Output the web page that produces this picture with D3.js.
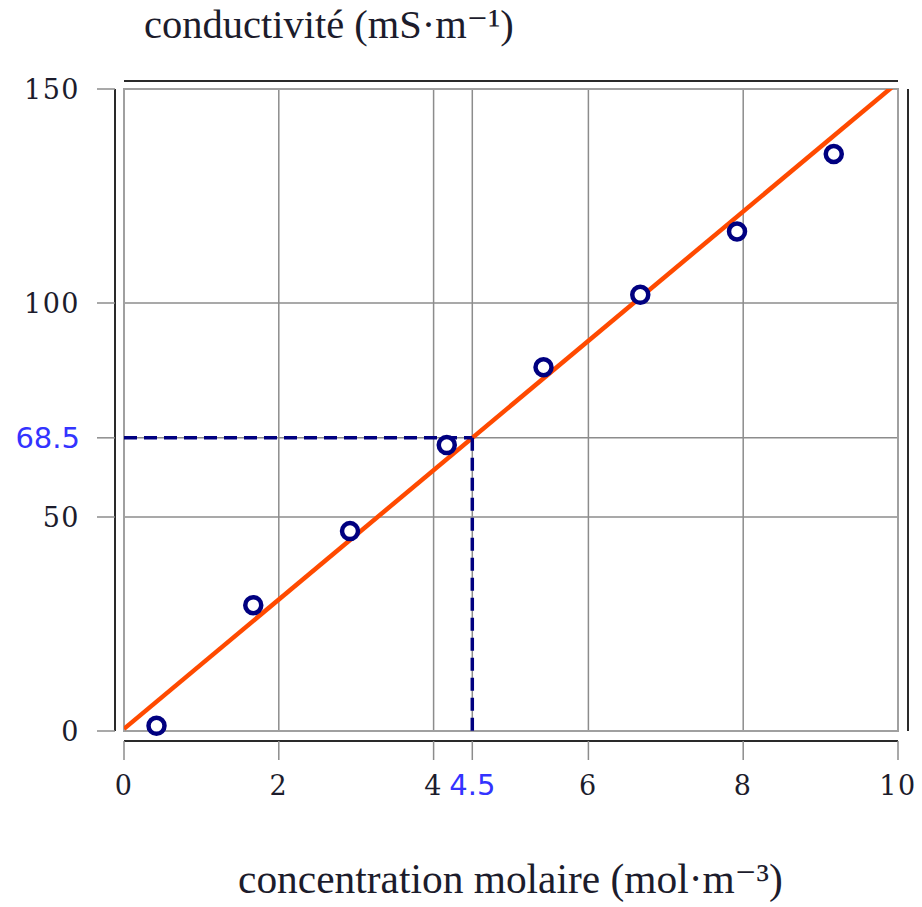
<!DOCTYPE html>
<html>
<head>
<meta charset="utf-8">
<script src="https://cdn.jsdelivr.net/npm/d3@7"></script>
<style>
  html, body { margin: 0; padding: 0; background: #fff; }
  svg { display: block; }
</style>
</head>
<body>
<svg id="chart" width="922" height="907"></svg>
<script>
// Measured conductivity versus molar concentration
const concentration = [0.42, 1.67, 2.92, 4.17, 5.42, 6.67, 7.92, 9.17];
const conductivity  = [1.2, 29.4, 46.7, 66.8, 85.0, 101.9, 116.7, 134.8];

// Regression line: sigma = slope * c + intercept
const fitSlope = 15.11;
const fitIntercept = 0.5;

// Read-off point on the regression line
const readX = 4.5;
const readY = 68.5;

const xTicks = [0, 2, 4, 6, 8, 10];
const yTicks = [0, 50, 100, 150];

const xTitle = "concentration molaire (mol·m⁻³)";
const yTitle = "conductivité (mS·m⁻¹)";

const svg = d3.select("#chart");
const plotLeft = 124, plotRight = 898, plotTop = 89, plotBottom = 731;

const x = d3.scaleLinear().domain([0, 10]).range([plotLeft, plotRight]);
const y = d3.scaleLinear().domain([0, 150]).range([plotBottom, plotTop]);

const serif = "'Liberation Serif', 'DejaVu Serif', serif";
const tickSerif = "'DejaVu Serif', serif";
const sans = "'DejaVu Sans', sans-serif";
const gridColor = "#8c8c8c";
const axisColor = "#2a2a2a";
const navy = "#000080";
const labelBlue = "#3333ff";
const textColor = "#1c1c2c";

svg.append("defs").append("clipPath").attr("id", "plot-clip")
  .append("rect").attr("x", plotLeft).attr("y", plotTop)
  .attr("width", plotRight - plotLeft).attr("height", plotBottom - plotTop);

// Grid lines (including the read-off values)
const gx = svg.append("g");
gx.selectAll("line.vx").data(xTicks.concat([readX])).join("line")
  .attr("class", "vx")
  .attr("x1", d => x(d)).attr("x2", d => x(d))
  .attr("y1", plotTop).attr("y2", plotBottom)
  .attr("stroke", gridColor).attr("stroke-width", 1.5);
gx.selectAll("line.hy").data(yTicks.concat([readY])).join("line")
  .attr("class", "hy")
  .attr("x1", plotLeft).attr("x2", plotRight)
  .attr("y1", d => y(d)).attr("y2", d => y(d))
  .attr("stroke", gridColor).attr("stroke-width", 1.5);

// Plot frame
svg.append("rect").attr("x", plotLeft).attr("y", plotTop)
  .attr("width", plotRight - plotLeft).attr("height", plotBottom - plotTop)
  .attr("fill", "none").attr("stroke", "#a0a0a0").attr("stroke-width", 2);

// Offset axes: left and bottom carry ticks, top and right are plain rules
const leftAxisX = 115, bottomAxisY = 741;
svg.append("line").attr("x1", leftAxisX).attr("x2", leftAxisX)
  .attr("y1", plotTop).attr("y2", plotBottom)
  .attr("stroke", axisColor).attr("stroke-width", 2);
svg.append("line").attr("x1", plotLeft).attr("x2", plotRight)
  .attr("y1", bottomAxisY).attr("y2", bottomAxisY)
  .attr("stroke", axisColor).attr("stroke-width", 2);
svg.append("line").attr("x1", plotLeft).attr("x2", plotRight)
  .attr("y1", 81).attr("y2", 81)
  .attr("stroke", axisColor).attr("stroke-width", 2);
svg.append("line").attr("x1", 908).attr("x2", 908)
  .attr("y1", plotTop).attr("y2", plotBottom)
  .attr("stroke", axisColor).attr("stroke-width", 2);

// Ticks
svg.append("g").selectAll("line").data(yTicks.concat([readY])).join("line")
  .attr("x1", 97).attr("x2", leftAxisX)
  .attr("y1", d => y(d)).attr("y2", d => y(d))
  .attr("stroke", gridColor).attr("stroke-width", 1.5);
svg.append("g").selectAll("line").data(xTicks.concat([readX])).join("line")
  .attr("x1", d => x(d)).attr("x2", d => x(d))
  .attr("y1", bottomAxisY).attr("y2", 760)
  .attr("stroke", gridColor).attr("stroke-width", 1.5);

// Tick labels
svg.append("g").selectAll("text").data(yTicks).join("text")
  .attr("x", 80).attr("y", d => y(d)).attr("dy", "0.36em")
  .attr("text-anchor", "end")
  .attr("font-family", tickSerif).attr("font-size", 27)
  .attr("letter-spacing", 1.5)
  .attr("fill", textColor)
  .text(d => d);
svg.append("g").selectAll("text").data(xTicks).join("text")
  .attr("x", d => x(d)).attr("y", 795)
  .attr("text-anchor", "middle")
  .attr("font-family", tickSerif).attr("font-size", 27)
  .attr("letter-spacing", 1.5)
  .attr("fill", textColor)
  .text(d => d);

svg.append("text").attr("x", 80).attr("y", y(readY)).attr("dy", "0.36em")
  .attr("text-anchor", "end")
  .attr("font-family", sans).attr("font-size", 29)
  .attr("fill", labelBlue).text(readY);
svg.append("text").attr("x", x(readX)).attr("y", 795)
  .attr("text-anchor", "middle")
  .attr("font-family", sans).attr("font-size", 29)
  .attr("fill", labelBlue).text(readX);

// Regression line
const plot = svg.append("g").attr("clip-path", "url(#plot-clip)");
const fitLine = d3.line().x(d => x(d)).y(d => y(fitSlope * d + fitIntercept));
plot.append("path").datum([0, 10]).attr("d", fitLine)
  .attr("fill", "none").attr("stroke", "#ff4a00").attr("stroke-width", 4.5);

// Read-off dashed guides
svg.append("line").attr("x1", x(0)).attr("x2", x(readX))
  .attr("y1", y(readY)).attr("y2", y(readY))
  .attr("stroke", navy).attr("stroke-width", 3.5).attr("stroke-dasharray", "13,7");
svg.append("line").attr("x1", x(readX)).attr("x2", x(readX))
  .attr("y1", y(readY)).attr("y2", y(0))
  .attr("stroke", navy).attr("stroke-width", 3.5).attr("stroke-dasharray", "13,7");

// Measurements
svg.append("g").selectAll("circle").data(concentration).join("circle")
  .attr("cx", d => x(d)).attr("cy", (d, i) => y(conductivity[i]))
  .attr("r", 8).attr("fill", "#fff")
  .attr("stroke", navy).attr("stroke-width", 4.5);

// Axis titles, sized to their measured span
function fitText(sel, width) {
  const w = sel.node().getComputedTextLength();
  const fs = parseFloat(sel.attr("font-size"));
  sel.attr("font-size", fs * width / w);
}
const yt = svg.append("text").attr("x", 144).attr("y", 38)
  .attr("font-family", serif).attr("font-size", 32)
  .attr("fill", textColor).text(yTitle);
fitText(yt, 370);
const xt = svg.append("text").attr("x", 238).attr("y", 893)
  .attr("font-family", serif).attr("font-size", 32)
  .attr("fill", textColor).text(xTitle);
fitText(xt, 545);
</script>
</body>
</html>
